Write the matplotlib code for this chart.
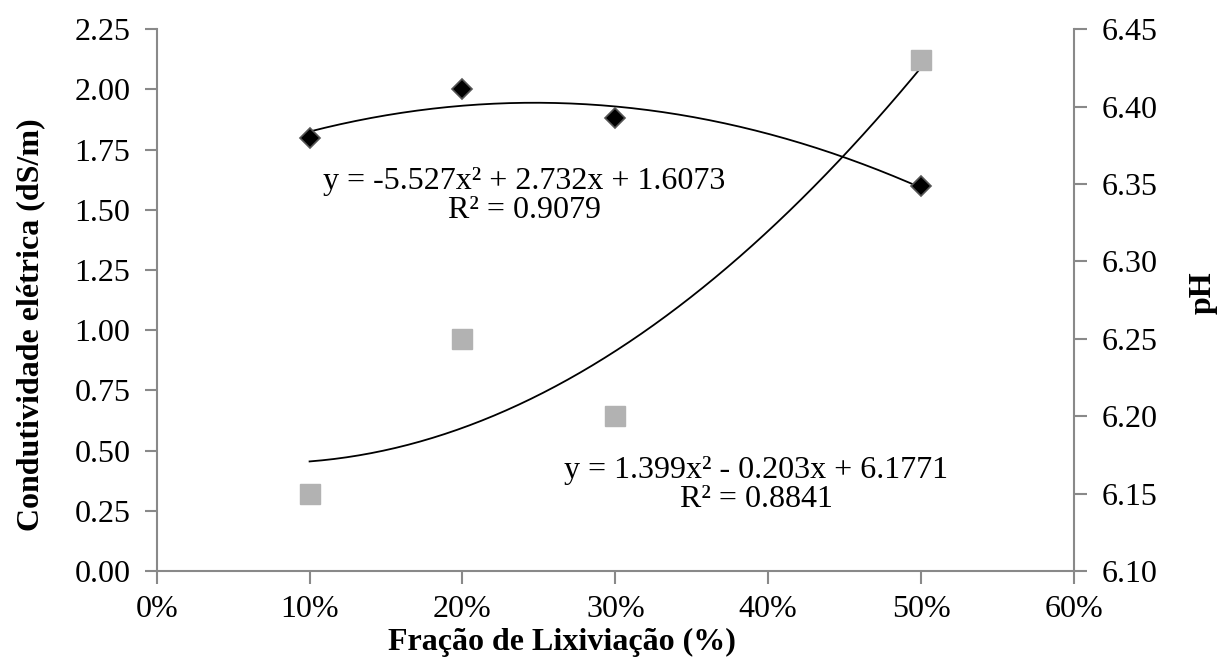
import matplotlib
matplotlib.use("Agg")
import matplotlib.pyplot as plt
import numpy as np
from matplotlib.ticker import FuncFormatter, MultipleLocator

plt.rcParams['font.family'] = ['Liberation Serif', 'DejaVu Serif']

# Data
fracao = [0.10, 0.20, 0.30, 0.50]
ce = [1.80, 2.00, 1.88, 1.60]
ph = [6.15, 6.25, 6.20, 6.43]
ce_coef = [-5.527, 2.732, 1.6073]
ph_coef = [1.399, -0.203, 6.1771]
ce_eq = "y = -5.527x² + 2.732x + 1.6073\nR² = 0.9079"
ph_eq = "y = 1.399x² - 0.203x + 6.1771\nR² = 0.8841"

W, H = 1219, 666
x0, x1, y0, y1 = 156.7, 1074.0, 571.0, 29.3
fig = plt.figure(figsize=(W / 100, H / 100), dpi=100)
ax = fig.add_axes([x0 / W, 1 - y0 / H, (x1 - x0) / W, (y0 - y1) / H])
ax2 = ax.twinx()

spine_c = '#898989'
fs = 23

# CE series
ax.plot(fracao, ce, linestyle='none', marker='D', ms=10, mfc='black', mec='#555555', mew=1.2, zorder=4)
xs = np.linspace(min(fracao), max(fracao), 200)
ax.plot(xs, np.polyval(ce_coef, xs), color='black', lw=1.3, zorder=3)

# pH series
ax2.plot(fracao, ph, linestyle='none', marker='s', ms=14, mfc='#B2B2B2', mec='#B2B2B2', zorder=4)
ax2.plot(xs, np.polyval(ph_coef, xs), color='black', lw=1.3, zorder=3)

ax.set_xlim(0, 0.6)
ax.set_ylim(0, 2.25)
ax2.set_ylim(6.10, 6.45)
ax.xaxis.set_major_locator(MultipleLocator(0.1))
ax.yaxis.set_major_locator(MultipleLocator(0.25))
ax2.yaxis.set_major_locator(MultipleLocator(0.05))
ax.xaxis.set_major_formatter(FuncFormatter(lambda v, p: f"{v*100:.0f}%"))
ax.yaxis.set_major_formatter(FuncFormatter(lambda v, p: f"{v:.2f}"))
ax2.yaxis.set_major_formatter(FuncFormatter(lambda v, p: f"{v:.2f}"))

for a in (ax, ax2):
    for s in a.spines.values():
        s.set_color(spine_c)
        s.set_linewidth(1.5)
    a.spines['top'].set_visible(False)
    a.tick_params(colors=spine_c, labelcolor='black', labelsize=fs, length=9, width=1.5, direction='out')
ax.spines['right'].set_visible(False)
ax2.spines['left'].set_visible(False)
ax2.spines['bottom'].set_visible(False)
ax.tick_params(axis='x', pad=8)
ax.tick_params(axis='y', pad=10)
ax2.tick_params(axis='y', pad=11)

pw, ph_px = (x1 - x0), (y0 - y1)
ax.set_xlabel("Fração de Lixiviação (%)", fontsize=fs, fontweight='bold')
ax.xaxis.label.set_va('center')
ax.xaxis.set_label_coords((562 - x0) / pw, (y0 - 642) / ph_px)
ax.set_ylabel("Condutividade elétrica (dS/m)", fontsize=fs, fontweight='bold')
ax.yaxis.label.set_va('center')
ax.yaxis.set_label_coords((31 - x0) / pw, (y0 - 325) / ph_px)
ax2.set_ylabel("pH", fontsize=fs, fontweight='bold')
ax2.yaxis.label.set_va('center')
ax2.yaxis.set_label_coords((1203 - x0) / pw, (y0 - 293) / ph_px)

ax.text(0.2403, 1.556, ce_eq, ha='center', va='center', fontsize=fs, linespacing=1.0, zorder=5)
ax.text(0.3923, 0.358, ph_eq, ha='center', va='center', fontsize=fs, linespacing=1.0, zorder=5)

fig.savefig("out.png", dpi=100)
